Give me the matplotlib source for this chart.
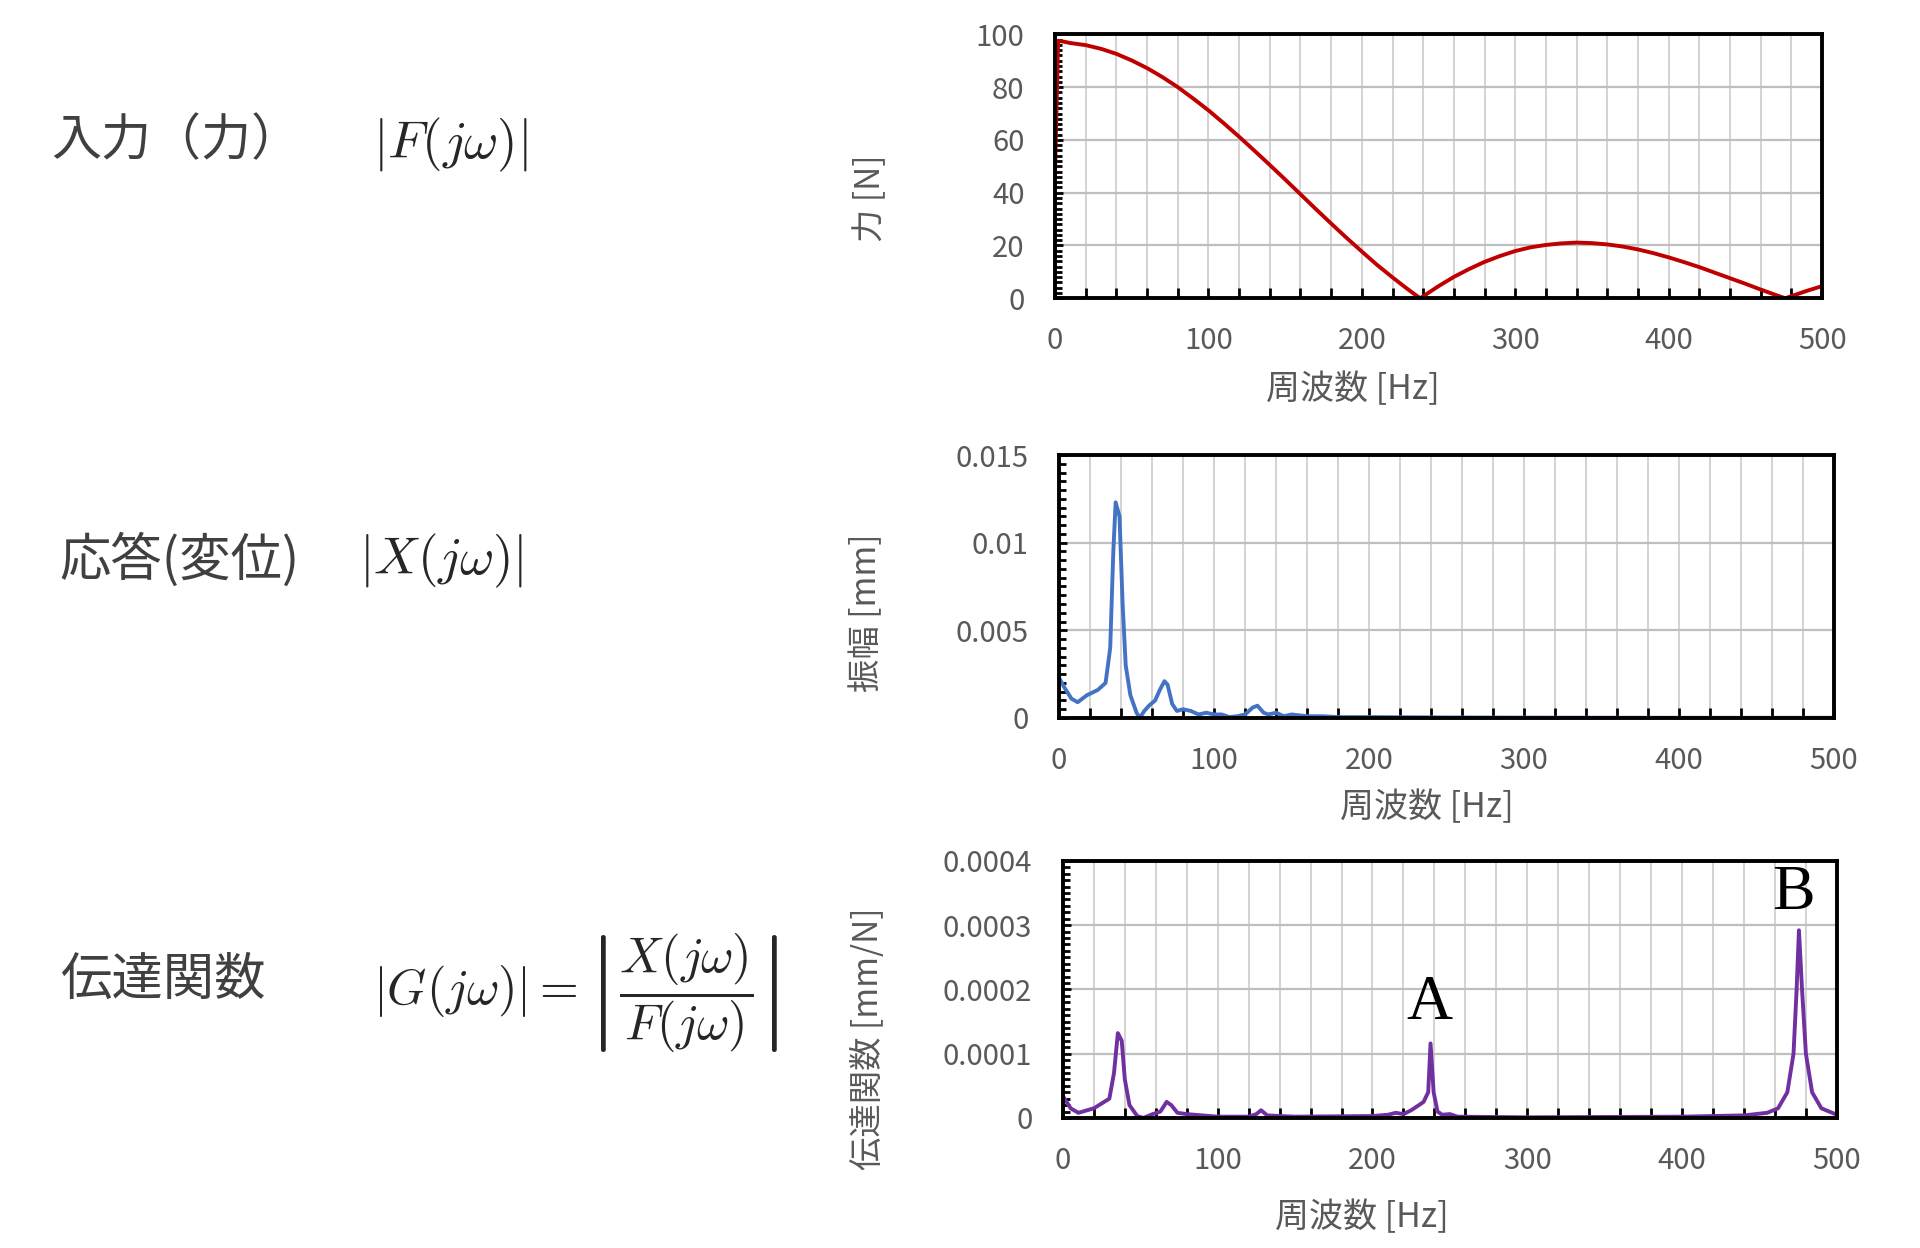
import numpy as np
import matplotlib
matplotlib.use("Agg")
import matplotlib.pyplot as plt
from matplotlib.ticker import MultipleLocator

plt.rcParams['font.family'] = ['Noto Sans CJK JP', 'DejaVu Sans']
plt.rcParams['mathtext.fontset'] = 'cm'

# --- data ---
# input force spectrum |F(jw)| [N]
f_force = [0, 2, 5, 10, 20, 30, 40, 50, 60, 70, 80, 90, 100, 110, 120, 130, 140,
           150, 160, 170, 180, 190, 200, 210, 220, 230, 238, 250, 260, 270, 280,
           290, 300, 310, 320, 330, 340, 350, 360, 370, 380, 390, 400, 410, 420,
           430, 440, 450, 460, 470, 476, 490, 500]
force = [48, 97.5, 97.3, 96.7, 95.9, 94.5, 92.6, 90.1, 87.2, 83.8, 80.0, 75.7,
         71.2, 66.3, 61.2, 55.9, 50.5, 45.0, 39.4, 33.8, 28.3, 22.9, 17.7, 12.6,
         7.9, 3.4, 0.0, 4.6, 8.1, 11.1, 13.8, 16.0, 17.9, 19.3, 20.2, 20.8, 21.1,
         20.9, 20.4, 19.6, 18.5, 17.1, 15.5, 13.7, 11.8, 9.7, 7.6, 5.5, 3.3, 1.2,
         0.0, 2.8, 4.6]

# response displacement |X(jw)| [mm]
f_disp = [0, 3, 8, 12, 18, 25, 30, 33, 35, 36.5, 39, 41, 43, 46, 50, 52, 55, 58,
          62, 65, 68, 70, 73, 76, 80, 85, 90, 95, 100, 105, 110, 115, 120, 125,
          128, 132, 135, 140, 145, 150, 160, 170, 180, 200, 250, 300, 400, 500]
disp = [0.0023, 0.0018, 0.0011, 0.0009, 0.0013, 0.0016, 0.0020, 0.0040, 0.0095,
        0.0123, 0.0115, 0.0065, 0.0030, 0.0013, 0.0003, 0.0000, 0.0004, 0.0007,
        0.0010, 0.0016, 0.0021, 0.0019, 0.0008, 0.0004, 0.0005, 0.0004, 0.0002,
        0.0003, 0.0002, 0.0002, 0.00005, 0.0001, 0.0002, 0.0006, 0.0007, 0.0003,
        0.0002, 0.0003, 0.0001, 0.0002, 0.0001, 0.0001, 0.00005, 0.00005,
        0.00003, 0.00002, 0.00001, 0.00001]

# transfer function |G(jw)| [mm/N]
f_tf = [0, 5, 10, 20, 30, 33, 35.5, 38, 40, 43, 48, 52, 58, 63, 67, 70, 74, 80,
        90, 100, 110, 120, 125, 128, 132, 140, 150, 200, 210, 215, 220, 225, 230,
        233, 236, 237.5, 239.5, 242, 245, 250, 255, 300, 400, 440, 455, 462, 468,
        472, 474, 475.5, 477.5, 480, 484, 490, 500]
tf = [0.000034, 0.000015, 0.000008, 0.000015, 0.000030, 0.000070, 0.000132,
      0.000120, 0.000060, 0.000020, 0.000003, 0.000000, 0.000006, 0.000010,
      0.000025, 0.000020, 0.000008, 0.000006, 0.000004, 0.000002, 0.000002,
      0.000002, 0.000006, 0.000012, 0.000004, 0.000003, 0.000002, 0.000003,
      0.000005, 0.000008, 0.000006, 0.000012, 0.000020, 0.000025, 0.000040,
      0.000116, 0.000040, 0.000010, 0.000005, 0.000006, 0.000002, 0.000001,
      0.000002, 0.000004, 0.000008, 0.000015, 0.000040, 0.000100, 0.000200,
      0.000292, 0.000200, 0.000100, 0.000040, 0.000015, 0.000005]

peak_labels = ['A', 'B']
peak_label_pos = [(236.5, 0.000177), (472, 0.000349)]

row_names = ['入力（力）', '応答(変位)', '伝達関数']
row_formulas = [r'$|F(j\omega)|$', r'$|X(j\omega)|$',
                r'$|G(j\omega)| = \left|\dfrac{X(j\omega)}{F(j\omega)}\right|$']

tick_gray = '#595959'
text_gray = '#404040'

fig = plt.figure(figsize=(19.2, 12.48), dpi=100)


def style_axes(ax, ymax, ymajor, yminor, ylabel, ylab_xy, xlab_xy, yticks_fmt=None):
    ax.set_xlim(0, 500)
    ax.set_ylim(0, ymax)
    ax.xaxis.set_major_locator(MultipleLocator(100))
    ax.xaxis.set_minor_locator(MultipleLocator(20))
    ax.yaxis.set_major_locator(MultipleLocator(ymajor))
    ax.yaxis.set_minor_locator(MultipleLocator(yminor))
    ax.grid(True, axis='x', which='both', color='#c8c8c8', lw=1.1)
    ax.grid(True, axis='y', which='major', color='#bfbfbf', lw=1.6)
    ax.set_axisbelow(True)
    for s in ax.spines.values():
        s.set_linewidth(2.8)
        s.set_color('black')
    ax.tick_params(axis='both', which='both', direction='in', color='black',
                   labelcolor=tick_gray, labelsize=21, width=2)
    ax.tick_params(axis='x', which='both', length=7, pad=20)
    ax.tick_params(axis='y', which='major', length=6, pad=22)
    ax.tick_params(axis='y', which='minor', length=5)
    if yticks_fmt is not None:
        ax.set_yticks(yticks_fmt[0])
        ax.set_yticklabels(yticks_fmt[1])
    ax.set_ylabel(ylabel, fontsize=24, color=tick_gray)
    ax.yaxis.set_label_coords(*ylab_xy)
    ax.set_xlabel('周波数 [Hz]', fontsize=24.5, color=tick_gray)
    ax.xaxis.set_label_coords(*xlab_xy)


# force
ax1 = fig.add_axes([0.5495, 0.761, 0.3995, 0.2115])
ax1.plot(f_force, force, color='#c00000', lw=2.8)
style_axes(ax1, 100, 20, 2, '力 [N]', (-0.218, 0.38), (0.388, -0.28))

# displacement
ax2 = fig.add_axes([0.5516, 0.4247, 0.4036, 0.2107])
ax2.plot(f_disp, disp, color='#4472c4', lw=2.8)
style_axes(ax2, 0.015, 0.005, 0.0005, '振幅 [mm]', (-0.226, 0.40), (0.474, -0.275),
           ([0, 0.005, 0.01, 0.015], ['0', '0.005', '0.01', '0.015']))

# transfer function
ax3 = fig.add_axes([0.5536, 0.1042, 0.4031, 0.206])
ax3.plot(f_tf, tf, color='#7030a0', lw=2.8)
style_axes(ax3, 0.0004, 0.0001, 0.00001, '伝達関数 [mm/N]', (-0.228, 0.31), (0.386, -0.32),
           ([0, 0.0001, 0.0002, 0.0003, 0.0004],
            ['0', '0.0001', '0.0002', '0.0003', '0.0004']))
for lab, (x, y) in zip(peak_labels, peak_label_pos):
    ax3.text(x, y, lab, fontsize=46, family='Liberation Serif', color='black',
             ha='center', va='center')

# left-hand descriptions
name_x = [51 / 1920, 59 / 1920, 61 / 1920]
name_y = [1 - 141 / 1248, 1 - 561 / 1248, 1 - 980 / 1248]
form_x = [373 / 1920, 359 / 1920, 373 / 1920]
form_y = [1 - 145 / 1248, 1 - 561 / 1248, 1 - 993 / 1248]
name_size = [36, 37, 37]
form_size = [38, 38, 36]
for i in range(3):
    fig.text(name_x[i], name_y[i], row_names[i], fontsize=name_size[i], color=text_gray,
             ha='left', va='center')
    fig.text(form_x[i], form_y[i], row_formulas[i], fontsize=form_size[i], color='#262626',
             ha='left', va='center')

fig.savefig('out.png', dpi=100, facecolor='white')
